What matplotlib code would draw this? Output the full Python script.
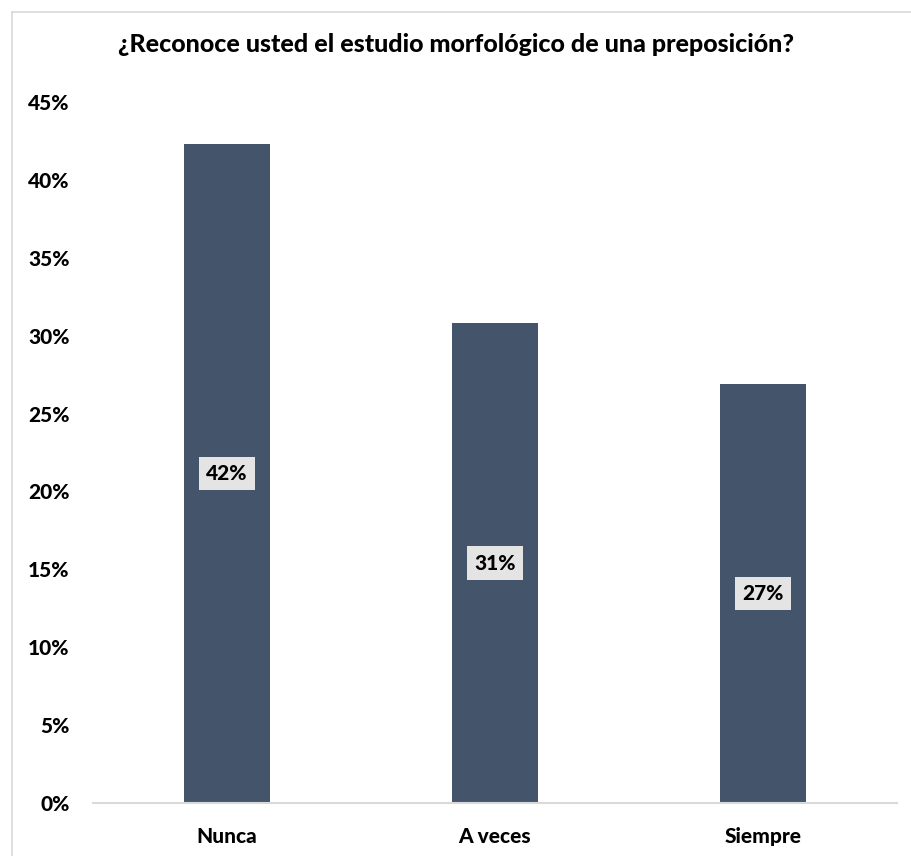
import matplotlib
matplotlib.use("Agg")
import matplotlib.pyplot as plt
from matplotlib.lines import Line2D
from matplotlib.ticker import PercentFormatter

categories = ["Nunca", "A veces", "Siempre"]
values = [42.3, 30.8, 26.9]
labels = ["42%", "31%", "27%"]

plt.rcParams['font.family'] = ['Lato', 'DejaVu Sans']
W = 900

fig = plt.figure(figsize=(9.11, 8.56), dpi=100)
ax = fig.add_axes([0.1021, 0.0619, 0.8825, 0.8189])

x = range(len(categories))
bars = ax.bar(x, values, width=0.32, color="#44546A", zorder=2)

for b, lab in zip(bars, labels):
    ax.text(b.get_x() + b.get_width() / 2, b.get_height() / 2, lab,
            ha="center", va="center", fontsize=15, fontweight=W,
            color="black", zorder=3,
            bbox=dict(boxstyle="square,pad=0.35", facecolor="#E4E4E4", edgecolor="none"))

ax.set_xlim(-0.5, 2.5)
ax.set_ylim(0, 45)
ax.set_yticks(range(0, 50, 5))
ax.yaxis.set_major_formatter(PercentFormatter(decimals=0))
ax.set_xticks(list(x))
ax.set_xticklabels(categories)
for t in ax.get_xticklabels() + ax.get_yticklabels():
    t.set_fontweight(W)
    t.set_fontsize(15)
ax.tick_params(axis="both", length=0)
ax.tick_params(axis="y", pad=17)
ax.tick_params(axis="x", pad=17)

for s in ["top", "right", "left"]:
    ax.spines[s].set_visible(False)
ax.spines["bottom"].set_color("#D9D9D9")
ax.spines["bottom"].set_linewidth(1.5)

fig.text(0.5, 1 - 44 / 856, "¿Reconoce usted el estudio morfológico de una preposición?",
         ha="center", va="center", fontsize=18, fontweight=W)

# chart frame (cropped)
fig.add_artist(Line2D([12 / 911, 1], [1 - 12 / 856, 1 - 12 / 856], color="#D9D9D9", lw=1.2))
fig.add_artist(Line2D([12 / 911, 12 / 911], [0, 1 - 12 / 856], color="#D9D9D9", lw=1.2))

fig.savefig("out.png", dpi=100)
